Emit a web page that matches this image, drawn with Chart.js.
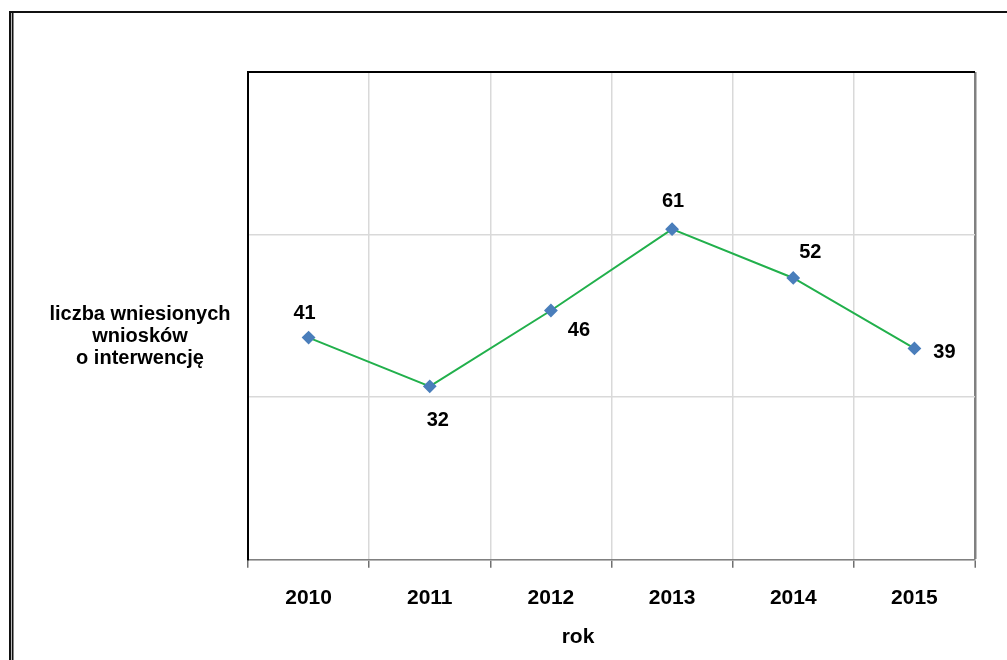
<!DOCTYPE html>
<html>
<head>
<meta charset="utf-8">
<script src="https://cdn.jsdelivr.net/npm/chart.js@4/dist/chart.umd.min.js"></script>
<style>
  html, body { margin: 0; padding: 0; background: #fff; }
  #wrap { width: 1007px; height: 660px; position: relative; }
</style>
</head>
<body>
<div id="wrap"><canvas id="myChart" width="1007" height="660"></canvas></div>
<script>
const lata = ['2010', '2011', '2012', '2013', '2014', '2015'];
const wnioski = [41, 32, 46, 61, 52, 39];
const yTitle = ['liczba wniesionych', 'wniosków', 'o interwencję'];
const xTitle = 'rok';

const FONT = '"Liberation Sans", Arial, sans-serif';

// value labels, each nudged like in the spreadsheet original
const pointLabels = {
  id: 'pointLabels',
  afterDatasetsDraw(chart, args, opts) {
    const { ctx } = chart;
    const meta = chart.getDatasetMeta(0);
    ctx.save();
    ctx.font = 'bold 20px ' + FONT;
    ctx.fillStyle = '#000';
    ctx.textAlign = 'center';
    ctx.textBaseline = 'middle';
    meta.data.forEach((pt, i) => {
      const off = opts.offsets[i] || [0, -25];
      ctx.fillText(chart.data.datasets[0].data[i], pt.x + off[0], pt.y + off[1]);
    });
    ctx.restore();
  }
};

// page frame and the axis captions
const frame = {
  id: 'frame',
  afterDraw(chart) {
    const { ctx, width, height } = chart;
    ctx.save();
    ctx.fillStyle = '#111';
    ctx.fillRect(9, 11, width - 9, 2);
    ctx.fillRect(9, 11, 2, height - 11);
    ctx.fillStyle = '#bbb';
    ctx.fillRect(11, 13, 1, height - 13);
    ctx.fillStyle = '#111';
    ctx.fillRect(12, 13, 1.5, height - 13);

    ctx.fillStyle = '#000';
    ctx.textAlign = 'center';
    ctx.textBaseline = 'middle';
    ctx.font = 'bold 20px ' + FONT;
    yTitle.forEach((line, i) => ctx.fillText(line, 140, 314 + i * 22));
    ctx.font = 'bold 21px ' + FONT;
    ctx.fillText(xTitle, 578, 637);
    ctx.restore();
  }
};

const data = {
  labels: lata,
  datasets: [{
    label: 'wnioski',
    data: wnioski,
    borderColor: '#22b04c',
    borderWidth: 2,
    pointStyle: 'rectRot',
    pointRadius: 5.5,
    pointHoverRadius: 5.5,
    pointBackgroundColor: '#4a7ebb',
    pointBorderColor: '#4a7ebb',
    tension: 0
  }]
};

const config = {
  type: 'line',
  data,
  options: {
    responsive: false,
    animation: false,
    layout: { padding: { left: 248, top: 72, right: 32, bottom: 31 } },
    plugins: {
      legend: { display: false },
      tooltip: { enabled: false },
      pointLabels: {
        offsets: [[-4, -24], [8, 34], [28, 20], [1, -28], [17, -25], [30, 4]]
      }
    },
    scales: {
      x: {
        offset: true,
        grid: {
          offset: true,
          color: (c) => c.type === 'tick' ? '#d9d9d9' : '#808080',
          lineWidth: (c) => c.type === 'tick' ? 1.5 : 2.5,
          tickColor: '#707070',
          tickLength: 8,
          tickWidth: 1.5
        },
        border: { color: '#808080', width: 1.5 },
        ticks: {
          color: '#000',
          padding: 18,
          font: { family: FONT, size: 21, weight: 'bold' }
        }
      },
      y: {
        min: 0,
        max: 90,
        ticks: { stepSize: 30, display: false },
        grid: {
          drawTicks: false,
          color: (c) => c.tick && c.tick.value === 90 ? '#000' : '#d9d9d9',
          lineWidth: (c) => c.tick && c.tick.value === 90 ? 2 : 1.5
        },
        border: { color: '#000', width: 2 }
      }
    }
  },
  plugins: [pointLabels, frame]
};

const myChart = new Chart(document.getElementById('myChart'), config);
</script>
</body>
</html>
